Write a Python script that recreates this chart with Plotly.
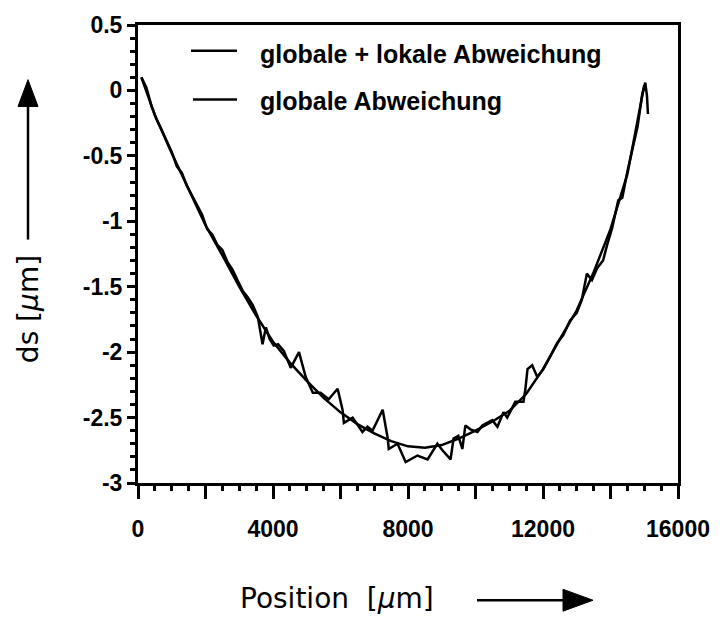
import plotly.graph_objects as go

# ---- data ----
x_global = [100, 500, 1000, 1500, 2000, 2500, 3000, 3500, 4000, 4500, 5000, 5500,
            6000, 6500, 7000, 7500, 8000, 8500, 9000, 9500, 10000, 10500, 11000,
            11500, 12000, 12500, 13000, 13500, 14000, 14500, 15000]
y_global = [0.10, -0.19, -0.48, -0.76, -1.03, -1.26, -1.50, -1.72, -1.92, -2.08, -2.22,
            -2.35, -2.46, -2.55, -2.62, -2.68, -2.72, -2.73, -2.71, -2.66, -2.60, -2.53,
            -2.45, -2.32, -2.13, -1.90, -1.68, -1.39, -1.06, -0.64, 0.04]

x_total = [100, 250, 400, 550, 700, 850, 1000, 1150, 1300, 1450, 1600, 1750, 1900,
           2050, 2200, 2350, 2500, 2650, 2800, 2950, 3100, 3250, 3400, 3550, 3690,
           3790, 3900, 4020, 4150, 4320, 4525, 4770, 4970, 5180, 5410, 5650, 5915,
           6060, 6100, 6360, 6650, 6800, 6950, 7250, 7400, 7430, 7690, 7930, 8280,
           8580, 8760, 8870, 9020, 9260, 9350, 9490, 9610, 9700, 9850, 10060, 10200,
           10500, 10650, 10830, 10940, 11180, 11420, 11480, 11540, 11680, 11830,
           12010, 12200, 12420, 12600, 12800, 13000, 13150, 13300, 13450, 13600,
           13780, 13900, 14050, 14230, 14350, 14500, 14650, 14800, 14940, 15030,
           15080, 15110]
y_total = [0.10, 0.02, -0.12, -0.22, -0.30, -0.38, -0.47, -0.58, -0.63, -0.73, -0.80,
           -0.88, -0.95, -1.06, -1.10, -1.18, -1.22, -1.31, -1.37, -1.45, -1.53, -1.58,
           -1.64, -1.73, -1.94, -1.81, -1.90, -1.95, -1.94, -1.99, -2.12, -2.00, -2.19,
           -2.31, -2.31, -2.36, -2.28, -2.44, -2.54, -2.50, -2.61, -2.57, -2.60, -2.44,
           -2.66, -2.74, -2.70, -2.84, -2.79, -2.82, -2.74, -2.70, -2.75, -2.82, -2.66,
           -2.64, -2.74, -2.56, -2.59, -2.61, -2.56, -2.52, -2.57, -2.46, -2.50, -2.38,
           -2.38, -2.28, -2.13, -2.10, -2.19, -2.13, -2.04, -1.93, -1.87, -1.76, -1.70,
           -1.60, -1.40, -1.45, -1.36, -1.30, -1.18, -1.05, -0.84, -0.82, -0.62, -0.46,
           -0.28, -0.03, 0.06, -0.04, -0.18]

name_total = "globale + lokale Abweichung"
name_global = "globale Abweichung"

x_tickvals = [0, 2000, 4000, 6000, 8000, 10000, 12000, 14000, 16000]
x_ticktext = ["0", "", "4000", "", "8000", "", "12000", "", "16000"]
y_tickvals = [0.5, 0, -0.5, -1, -1.5, -2, -2.5, -3]
y_ticktext = ["0.5", "0", "-0.5", "-1", "-1.5", "-2", "-2.5", "-3"]

# ---- layout geometry ----
W, H = 727, 619
L, R, T, B = 138, 49, 22, 136
PW, PH = W - L - R, H - T - B


def px(xp):
    return (xp - L) / PW


def py(yp):
    return (H - B - yp) / PH


fig = go.Figure()
fig.add_trace(go.Scatter(x=x_total, y=y_total, mode="lines", name=name_total,
                         line=dict(color="black", width=2.5), showlegend=False))
fig.add_trace(go.Scatter(x=x_global, y=y_global, mode="lines", name=name_global,
                         line=dict(color="black", width=2.5), showlegend=False))

tick_font = dict(family="Liberation Sans, Arial", size=23, color="black", weight="bold")
fig.update_xaxes(range=[0, 16000], showline=True, linecolor="black", linewidth=3,
                 mirror=True, ticks="outside", ticklen=13, tickwidth=2.5, tickcolor="black",
                 tickvals=x_tickvals, ticktext=x_ticktext, tickfont=tick_font,
                 ticklabelstandoff=10, showgrid=False, zeroline=False,
                 minor=dict(dtick=500, ticks="outside", ticklen=5, tickwidth=2.5,
                            tickcolor="black", showgrid=False))
fig.update_yaxes(range=[-3, 0.5], showline=True, linecolor="black", linewidth=3,
                 mirror=True, ticks="outside", ticklen=8, tickwidth=2.5, tickcolor="black",
                 tickvals=y_tickvals, ticktext=y_ticktext, tickfont=tick_font,
                 showgrid=False, zeroline=False,
                 minor=dict(dtick=0.1, ticks="outside", ticklen=5, tickwidth=2.5,
                            tickcolor="black", showgrid=False))

title_font = dict(family="DejaVu Sans", size=28, color="black")
legend_font = dict(family="Liberation Sans, Arial", size=25, color="black", weight="bold")

shapes = [
    # legend lines
    dict(type="line", xref="paper", yref="paper", x0=px(191), x1=px(237), y0=py(48), y1=py(48),
         line=dict(color="black", width=2.5)),
    dict(type="line", xref="paper", yref="paper", x0=px(193), x1=px(237), y0=py(97), y1=py(97),
         line=dict(color="black", width=2.5)),
    # y arrow
    dict(type="line", xref="paper", yref="paper", x0=px(28), x1=px(28), y0=py(238), y1=py(100),
         line=dict(color="black", width=2.5)),
    dict(type="path", xref="paper", yref="paper",
         path=f"M {px(28)},{py(77)} L {px(18)},{py(104)} L {px(38)},{py(104)} Z",
         fillcolor="black", line=dict(color="black", width=1)),
    # x arrow
    dict(type="line", xref="paper", yref="paper", x0=px(477), x1=px(566), y0=py(601), y1=py(601),
         line=dict(color="black", width=2.5)),
    dict(type="path", xref="paper", yref="paper",
         path=f"M {px(593)},{py(601)} L {px(563)},{py(590)} L {px(563)},{py(612)} Z",
         fillcolor="black", line=dict(color="black", width=1)),
]

annotations = [
    dict(text=name_total, xref="paper", yref="paper", x=px(258), y=py(51),
         xanchor="left", yanchor="middle", showarrow=False, font=legend_font),
    dict(text=name_global, xref="paper", yref="paper", x=px(258), y=py(98),
         xanchor="left", yanchor="middle", showarrow=False, font=legend_font),
    dict(text="Position  [<i>μ</i>m]", xref="paper", yref="paper", x=px(337), y=py(599),
         xanchor="center", yanchor="middle", showarrow=False, font=title_font),
    dict(text="ds [<i>μ</i>m]", xref="paper", yref="paper", x=px(28), y=py(308),
         xanchor="center", yanchor="middle", showarrow=False, textangle=-90, font=title_font),
]

fig.update_layout(width=W, height=H, margin=dict(l=L, r=R, t=T, b=B, pad=0),
                  plot_bgcolor="white", paper_bgcolor="white",
                  shapes=shapes, annotations=annotations, showlegend=False)

fig.write_html("out.html")
